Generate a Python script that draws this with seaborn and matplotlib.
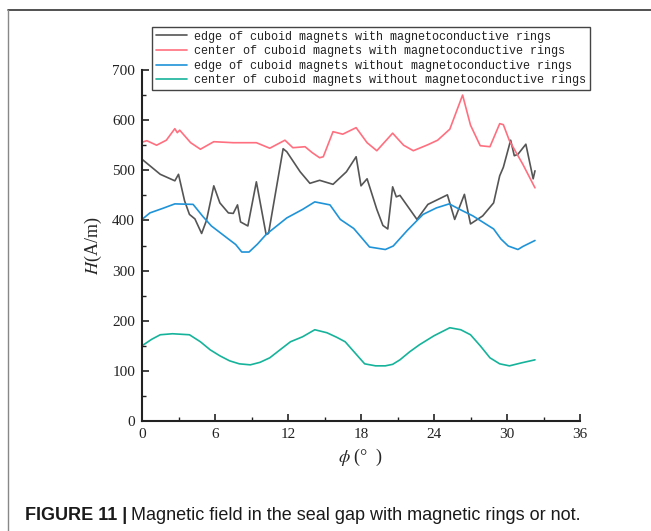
import matplotlib
matplotlib.use("Agg")
import matplotlib.pyplot as plt
import seaborn as sns
import pandas as pd
from matplotlib.lines import Line2D

# ---- data ----
series_names = [
    "edge of cuboid magnets with magnetoconductive rings",
    "center of cuboid magnets with magnetoconductive rings",
    "edge of cuboid magnets without magnetoconductive rings",
    "center of cuboid magnets without magnetoconductive rings",
]

edge_with_phi = [0.0, 0.5, 1.5, 2.7, 3.0, 3.5, 3.9, 4.35, 4.9, 5.3, 5.9, 6.4, 7.1, 7.5, 7.85, 8.1, 8.7,
                 9.4, 10.2, 10.4, 11.6, 11.9, 13.0, 13.8, 14.6, 15.7, 16.8, 17.6, 18.0, 18.5, 19.3,
                 19.8, 20.2, 20.6, 20.9, 21.2, 22.6, 23.5, 25.1, 25.7, 26.5, 27.0, 28.0, 28.9, 29.4,
                 29.7, 30.3, 30.6, 30.9, 31.55, 32.15, 32.3]
edge_with_H = [522, 512, 492, 479, 492, 439, 412, 403, 374, 400, 469, 435, 415, 414, 431, 397, 389,
               477, 372, 374, 543, 537, 497, 474, 480, 472, 497, 527, 469, 483, 422,
               390, 383, 467, 447, 450, 402, 432, 451, 402, 452, 393, 409, 435, 489,
               506, 560, 529, 532, 552, 483, 499]

center_with_phi = [0.0, 0.4, 1.2, 2.0, 2.7, 2.9, 3.1, 4.0, 4.8, 5.9, 7.5, 9.4, 10.5, 11.75, 12.4,
                   13.4, 14.0, 14.6, 14.9, 15.7, 16.5, 17.6, 18.5, 19.3, 20.6, 21.5, 22.3, 23.5,
                   24.3, 25.3, 26.35, 27.0, 27.8, 28.6, 29.4, 29.7, 30.2, 31.3, 32.3]
center_with_H = [556, 559, 550, 560, 583, 575, 580, 555, 542, 557, 555, 555, 544, 560, 545,
                 547, 535, 525, 527, 577, 572, 585, 555, 539, 574, 550, 539, 551,
                 560, 582, 650, 590, 549, 547, 593, 591, 559, 512, 465]

edge_without_phi = [0.0, 0.65, 1.7, 2.7, 4.2, 5.0, 5.7, 7.1, 7.7, 8.2, 8.8, 9.5, 10.2, 11.9, 13.2,
                    14.2, 15.45, 16.3, 17.4, 18.0, 18.7, 20.0, 20.65, 21.8, 23.1, 24.2, 25.25,
                    26.2, 27.2, 28.9, 29.5, 30.1, 30.9, 31.3, 32.3]
edge_without_H = [402, 415, 424, 433, 432, 408, 389, 363, 352, 337, 337, 353, 372, 405, 422,
                  437, 431, 402, 384, 367, 347, 342, 349, 380, 412, 425, 433,
                  421, 409, 383, 363, 349, 342, 348, 360]

center_without_phi = [0.0, 0.8, 1.5, 2.5, 3.9, 4.8, 5.6, 6.4, 7.2, 8.0, 8.9, 9.7, 10.5, 11.4, 12.2,
                      13.2, 14.2, 15.2, 16.0, 16.7, 17.5, 18.3, 19.2, 20.0, 20.6, 21.2, 22.0, 22.8,
                      24.0, 25.3, 26.2, 27.0, 27.8, 28.6, 29.4, 30.2, 31.2, 32.3]
center_without_H = [150, 163, 172, 174, 172, 158, 142, 130, 120, 114, 112, 117, 126, 143, 158,
                    168, 182, 176, 167, 158, 136, 114, 110, 110, 113, 122, 138, 152,
                    170, 186, 182, 172, 150, 126, 114, 110, 116, 122]

x_ticks = [0, 6, 12, 18, 24, 30, 36]
y_ticks = [0, 100, 200, 300, 400, 500, 600, 700]

colors = ["#555555", "#ff6f7f", "#1f93d8", "#16b39b"]

frames = []
for name, ph, hv in zip(series_names,
                        [edge_with_phi, center_with_phi, edge_without_phi, center_without_phi],
                        [edge_with_H, center_with_H, edge_without_H, center_without_H]):
    frames.append(pd.DataFrame({"phi": ph, "H": hv, "series": name}))
df = pd.concat(frames, ignore_index=True)

# ---- style ----
sns.set_style("ticks")
plt.rcParams["font.family"] = ["Liberation Serif", "DejaVu Serif"]
plt.rcParams["mathtext.fontset"] = "stix"

fig = plt.figure(figsize=(6.51, 5.31), dpi=100)
ax = fig.add_axes([142 / 651, 1 - 421 / 531, 438 / 651, 351 / 531])

sns.lineplot(data=df, x="phi", y="H", hue="series", hue_order=series_names,
             palette=colors, estimator=None, sort=False, linewidth=1.2, ax=ax)

ax.set_xlim(0, 36)
ax.set_ylim(0, 700)
ax.set_xticks(x_ticks)
ax.set_yticks(y_ticks)
ax.set_xticks([3, 9, 15, 21, 27, 33], minor=True)
ax.set_yticks([50, 150, 250, 350, 450, 550, 650], minor=True)
ax.tick_params(which="major", direction="in", length=5, width=1.2, labelsize=11, pad=5, colors="#222222")
ax.tick_params(which="minor", direction="in", length=3, width=1.0, colors="#222222")
for s in ["top", "right"]:
    ax.spines[s].set_visible(False)
for s in ["left", "bottom"]:
    ax.spines[s].set_linewidth(1.5)
    ax.spines[s].set_color("#222222")

ax.set_xlabel(r"$\phi$ (°  )", fontsize=13, labelpad=4)
ax.set_ylabel(r"$\it{H}$(A/m)", fontsize=13, labelpad=6)

leg = ax.legend(loc="upper left", bbox_to_anchor=(0.023, 1.1225), frameon=True, fancybox=False,
                edgecolor="#444444", framealpha=1, borderpad=0.3, labelspacing=0.22,
                handlelength=2.7, handletextpad=0.6, borderaxespad=0,
                prop={"family": "Liberation Mono", "size": 8.45})
leg.get_frame().set_linewidth(1.0)
for t in leg.get_texts():
    t.set_color("#222222")

# ---- figure frame lines ----
fig.add_artist(Line2D([8 / 651, 1.0], [1 - 10 / 531, 1 - 10 / 531], color="#333333", linewidth=1.2))
fig.add_artist(Line2D([8 / 651, 8 / 651], [0.0, 1 - 10 / 531], color="#888888", linewidth=1.0))

# ---- caption ----
t1 = fig.text(25 / 651, 1 - 515 / 531, "FIGURE 11 |", fontsize=13, fontweight="bold",
              family="Liberation Sans", color="#1a1a1a", va="center", ha="left")
fig.canvas.draw()
bb = t1.get_window_extent()
x_next = (bb.x1 + 4) / fig.bbox.width
fig.text(x_next, 1 - 515 / 531, "Magnetic field in the seal gap with magnetic rings or not.",
         fontsize=13, family="Liberation Sans", color="#1a1a1a", va="center", ha="left")

fig.savefig("out.png", dpi=100)
